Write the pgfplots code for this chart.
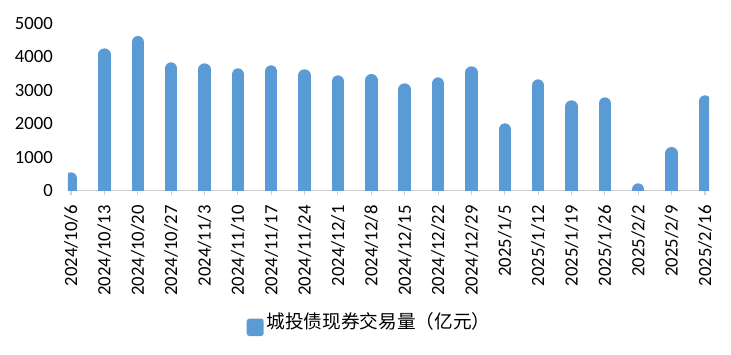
\documentclass[border=0pt]{standalone}
\usepackage{pgfplots}
\pgfplotsset{compat=1.18}
\usepackage{pgfplotstable}
\usepackage{fontspec}
\setmainfont{Carlito}
\newfontfamily\cjk{Noto Sans CJK SC}
\definecolor{barblue}{HTML}{5B9BD5}
\definecolor{axisgray}{HTML}{D0D0D0}
\pgfplotstableread{
i v
0 547
1 4250
2 4620
3 3833
4 3803
5 3654
6 3743
7 3624
8 3445
9 3484
10 3206
11 3385
12 3714
13 2010
14 3325
15 2698
16 2788
17 218
18 1303
19 2847
}\data
\begin{document}
\begin{tikzpicture}
\useasboundingbox (-51pt,-122.55pt) rectangle (497.25pt,142.95pt);
\begin{axis}[
  at={(0,0)}, anchor=south west,
  scale only axis, width=480.75pt, height=125.5pt,
  xmin=-0.09, xmax=19.12, ymin=0, ymax=5000,
  axis x line*=bottom, axis y line*=left,
  x axis line style={draw=axisgray, line width=1pt, -},
  y axis line style={draw=none},
  ytick={0,1000,...,5000},
  xtick={0,...,19},
  xticklabels={2024/10/6,2024/10/13,2024/10/20,2024/10/27,2024/11/3,2024/11/10,2024/11/17,2024/11/24,2024/12/1,2024/12/8,2024/12/15,2024/12/22,2024/12/29,2025/1/5,2025/1/12,2025/1/19,2025/1/26,2025/2/2,2025/2/9,2025/2/16},
  tick align=outside,
  major tick length=3pt,
  xtick style={draw=axisgray, line width=0.8pt},
  ytick style={draw=none},
  /pgf/number format/assume math mode=true,
  scaled y ticks=false,
  yticklabel={\pgfmathprintnumber[1000 sep={}]{\tick}},
  tick label style={font=\fontsize{14}{16}\selectfont, text=black},
  xticklabel style={rotate=90, anchor=east, inner sep=0pt},
  yticklabel style={anchor=east, inner sep=0pt},
  xticklabel shift=8pt,
  yticklabel shift=8.25pt,
  legend style={at={(axis description cs:0.471,-0.79)}, anchor=center, draw=none, fill=none, inner sep=0pt,
    font=\cjk\fontsize{14}{16}\selectfont, text=black},
  legend image code/.code={\fill[barblue, draw=none, line width=0pt, rounded corners=2.2pt] (0pt,-6.6pt) rectangle (12.75pt,6.6pt);},
]
\addplot[ycomb, draw=barblue, line width=9.3pt, line cap=round, mark=none, yshift=-4.65pt] table[x=i,y=v] {\data};
\addlegendentry{城投债现券交易量（亿元）}
\end{axis}
\end{tikzpicture}
\end{document}
